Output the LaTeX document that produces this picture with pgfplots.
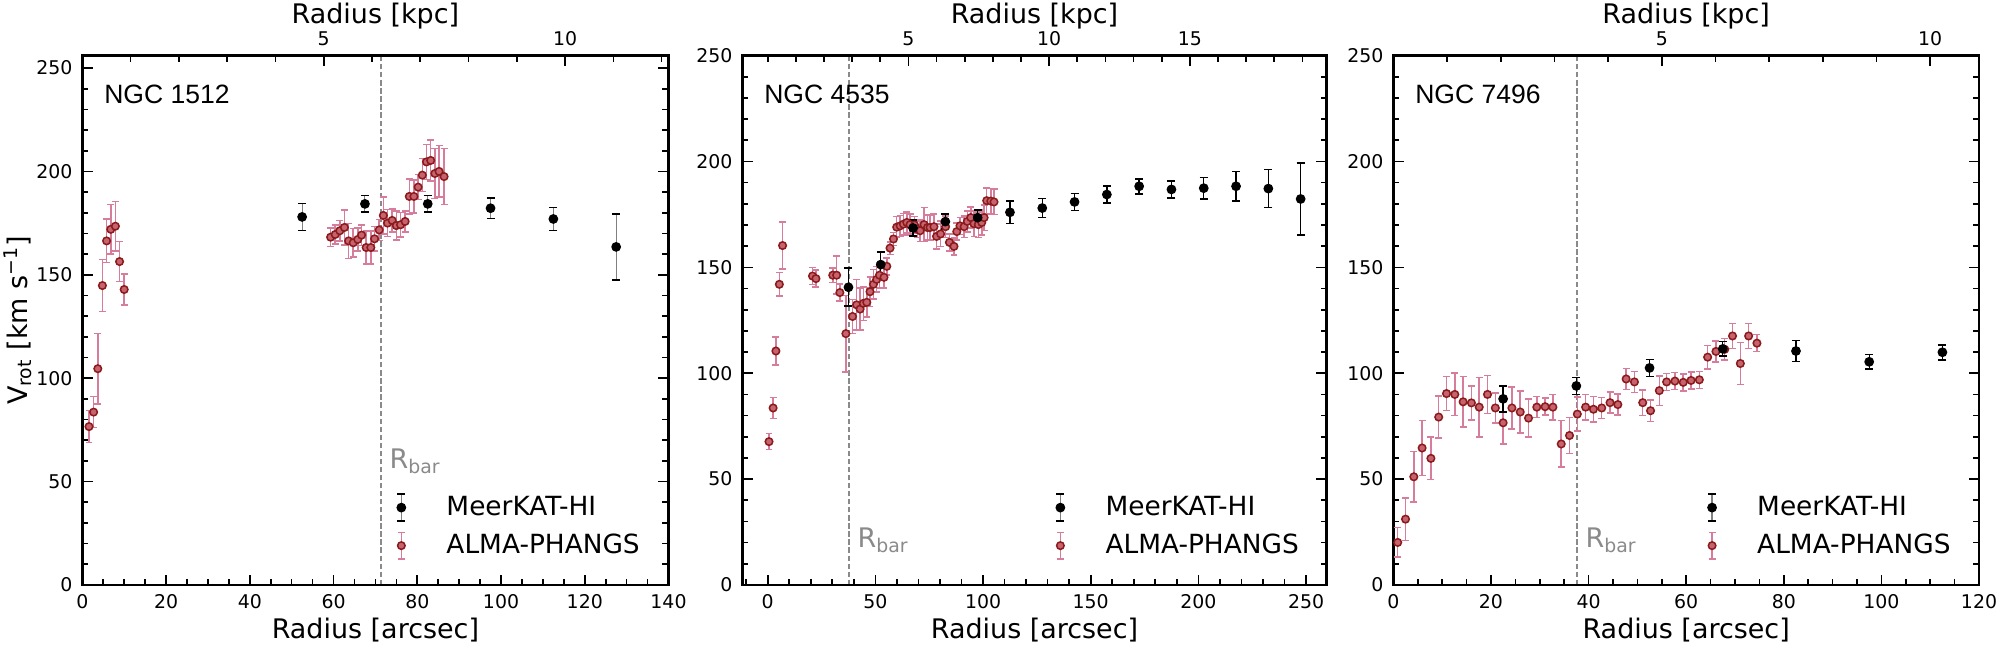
\documentclass[border=0pt]{standalone}
\usepackage{fontspec}
\setmainfont{DejaVu Sans}
\newfontfamily\arialf{Liberation Sans}
\usepackage{pgfplots}
\usepackage{pgfplotstable}
\pgfplotsset{compat=1.18}

\definecolor{almafill}{RGB}{199,99,112}
\definecolor{almaedge}{RGB}{139,26,26}
\definecolor{almaerr}{RGB}{214,125,155}
\definecolor{rbarc}{RGB}{138,138,138}

\newcommand{\labfont}{\fontsize{9.7}{11.6}\selectfont}
\newcommand{\legfont}{\fontsize{9.5}{11.4}\selectfont}
\newcommand{\titfont}{\arialf\fontsize{9.55}{11.4}\selectfont}
\newcommand{\tickfont}{\fontsize{6.8}{8}\selectfont}

% ---------------- data -----------------
\pgfplotstableread{
r v e
1.6 76.6 7.7
2.7 83.6 7.5
3.7 104.6 17
4.8 144.8 12.5
5.8 166.4 10.5
6.8 172.0 12
7.9 173.5 12
8.9 156.4 9.7
10.0 142.9 7.5
59.3 168.2 4.5
60.4 169.5 4.5
61.5 171.3 5
62.6 172.9 8.5
63.6 166.4 8.5
64.7 165.5 7
65.8 167.1 5.5
66.7 169.2 5
67.8 163.2 8
68.9 163.2 8
69.8 167.4 6
70.9 171.7 5
71.9 178.7 9
72.9 175.0 6.5
74.0 176.3 5.5
75.0 173.8 7
76.0 174.2 6
77.1 175.8 5
78.1 187.9 8.5
79.2 187.9 8
80.2 192.4 6
81.2 198.2 8
82.2 204.6 8.5
83.2 205.3 10
84.2 199.0 12
85.2 200.0 12.5
86.4 197.5 13.5
}\almaA
\pgfplotstableread{
r v e
52.5 178.0 6.5
67.5 184.3 4
82.5 184.3 4
97.5 182.2 5
112.5 177.0 5.5
127.5 163.5 16
}\hiA

\pgfplotstableread{
r v e
0.6 67.7 3.8
2.5 83.6 5
3.8 110.5 6.5
5.4 142.0 5.5
6.9 160.3 11
20.8 145.9 4
22.4 144.7 4
30.2 146.3 3.5
32.0 146.3 9
33.5 138.1 4
36.3 118.7 18
39.4 126.8 8
41.3 132.3 12
42.9 130.3 10
44.4 133.0 8
46.0 133.5 7
47.5 138.5 7
49.1 142.0 7
50.6 144.3 6
51.9 146.3 6
54.0 145.3 5
55.3 150.5 4
56.8 159.1 3
58.4 163.4 3
59.9 169.0 5
61.5 169.6 5
63.0 170.4 5
64.6 171.2 5
66.1 170.2 5
68.2 170.0 4
69.5 168.0 4
70.8 167.3 5
72.6 170.2 8
74.2 168.8 6
75.4 168.8 6
77.2 169.2 6
78.4 164.6 6
80.3 165.8 6
82.6 169.2 5
84.4 161.8 4
86.5 159.9 4
87.8 166.9 4
89.3 169.6 4
91.2 169.2 5
92.7 171.7 5
94.3 173.5 5
95.8 170.6 6
97.8 170.2 6
99.4 171.2 6
100.5 173.5 6
101.7 181.5 6
103.6 181.3 6
105.1 180.9 6
}\almaB
\pgfplotstableread{
r v e
37.5 140.6 9
52.5 151.3 6
67.5 168.6 3.7
82.5 171.6 3.5
97.5 173.5 3.5
112.5 176.0 5.3
127.5 178.0 4.5
142.5 180.9 4
157.5 184.4 4
172.5 188.3 3.5
187.5 186.8 4
202.5 187.4 5
217.5 188.3 7
232.5 187.2 9
247.5 182.3 17
}\hiB

\pgfplotstableread{
r v e
0.9 20.1 7
2.5 31.1 10
4.2 51.1 12
5.9 64.7 13
7.7 59.8 10
9.3 79.3 10
10.9 90.4 8
12.6 90.0 10
14.3 86.5 12
16.0 86.0 8
17.6 84.0 14
19.3 90.0 9
20.9 83.6 7
22.5 76.6 10
24.3 83.6 10
26.0 81.7 10
27.7 78.8 9
29.4 84.0 5
31.1 84.2 4
32.7 84.0 6
34.4 66.6 11
36.1 70.6 8.5
37.7 80.7 8
39.4 84.0 6
41.0 83.0 6
42.7 83.6 5
44.4 86.1 5
46.0 85.2 5
47.7 97.3 5
49.4 95.9 5
51.1 86.1 6
52.7 82.3 5
54.5 91.8 7
56.0 95.9 4
57.7 96.3 4
59.4 95.7 4
61.0 96.6 4
62.7 96.9 4
64.4 107.6 5.5
66.1 110.3 5
67.9 111.3 5
69.5 117.6 6
71.1 104.6 10
72.8 117.6 6
74.5 114.2 4
}\almaC
\pgfplotstableread{
r v e
22.5 87.9 6.2
37.5 94.0 4
52.5 102.5 4
67.5 111.5 3.5
82.5 110.5 5
97.5 105.4 3.5
112.5 109.9 3.5
}\hiC

\pgfplotsset{
  base/.style={
    scale only axis,
    height=190.58pt,
    anchor=south west,
    axis line style={line width=1pt},
    tick style={line width=0.6pt, black},
    major tick length=3.7pt,
    minor tick length=2.2pt,
    tick align=inside,
    /pgf/number format/assume math mode=true,
    tick label style={font=\tickfont},
    label style={font=\labfont},
  },
  mainax/.style={
    base,
    xtick pos=left,
    ytick pos=both,
    yticklabel pos=left,
    ytick={0,50,...,250},
    minor ytick={0,10,...,250},
    ymin=0,
    xlabel={Radius [arcsec]},
    x label style={at={(axis description cs:0.5,0)}, anchor=base, yshift=-19.1pt},
    legend style={draw=none, fill=none, inner sep=0pt, font=\legfont,
      at={(rel axis cs:0.535,0.043)}, anchor=south west,
      nodes={inner sep=1.5pt},
      row sep=2.2pt,
      /tikz/every odd column/.append style={column sep=13pt}},
    legend cell align=left,
  },
  kpcax/.style={
    base,
    hide y axis,
    xtick pos=right,
    xticklabel pos=right,
    ymin=0, ymax=1,
    xlabel={Radius [kpc]},
    x label style={at={(axis description cs:0.5,1)}, anchor=base, yshift=11.4pt},
  },
  alma/.style={only marks, mark=*, mark size=1.35pt,
    mark options={fill=almafill, draw=almaedge, line width=0.55pt},
    forget plot,
    error bars/.cd, y dir=both, y explicit,
    error bar style={almaerr, line width=0.55pt},
    error mark options={almaerr, line width=0.55pt, mark size=1.25pt, rotate=90}},
  hi/.style={only marks, mark=*, mark size=1.55pt,
    mark options={fill=black, draw=black},
    forget plot,
    error bars/.cd, y dir=both, y explicit,
    error bar style={black, line width=0.5pt},
    error mark options={black, line width=0.6pt, mark size=1.45pt, rotate=90}},
  hileg/.style={legend image code/.code={
    \draw[gray, line width=0.45pt] (0pt,-4.8pt) -- (0pt,4.8pt);
    \draw[black, line width=0.6pt] (-1.45pt,-4.8pt) -- (1.45pt,-4.8pt) (-1.45pt,4.8pt) -- (1.45pt,4.8pt);
    \fill[black] (0pt,0pt) circle (1.55pt);}},
  almaleg/.style={legend image code/.code={
    \draw[almaerr, line width=0.55pt] (0pt,-4.8pt) -- (0pt,4.8pt);
    \draw[almaerr, line width=0.55pt] (-1.25pt,-4.8pt) -- (1.25pt,-4.8pt) (-1.25pt,4.8pt) -- (1.25pt,4.8pt);
    \filldraw[fill=almafill, draw=almaedge, line width=0.55pt] (0pt,0pt) circle (1.35pt);}},
}

\begin{document}
\begin{tikzpicture}
\path[use as bounding box] (0,0) rectangle (720pt,232.56pt);

% ================= Panel 1 =================
\begin{axis}[mainax, at={(29.63pt,21.96pt)}, width=211.03pt,
  xmin=0, xmax=140, ymax=256,
  xtick={0,20,...,140}, minor xtick={0,5,...,140},
  ylabel={V\textsubscript{rot} [km s\textsuperscript{−1}]},
  y label style={at={(axis description cs:-0.11,0.5)}, anchor=center},
]
\addplot[rbarc, line width=0.7pt, dash pattern=on 1.9pt off 1pt, forget plot] coordinates {(71.3,0) (71.3,256)};
\addplot[alma] table[x=r, y=v, y error=e]{\almaA};
\addplot[hi, error bar style={gray, line width=0.4pt}] table[x=r, y=v, y error=e]{\hiA};
\addlegendimage{hileg}\addlegendentry{MeerKAT-HI}
\addlegendimage{almaleg}\addlegendentry{ALMA-PHANGS}
\node[anchor=base west, inner sep=0pt, font=\titfont] at (rel axis cs:0,1) [xshift=7.7pt, yshift=-17.1pt] {NGC 1512};
\node[anchor=base west, inner sep=0pt, font=\labfont, text=rbarc] at (axis cs:71.3,56.4) [xshift=3pt] {R\textsubscript{bar}};
\end{axis}
\begin{axis}[kpcax, at={(29.63pt,21.96pt)}, width=211.03pt,
  xmin=0, xmax=12.142, xtick={5,10}, minor xtick={1,...,12}]
\end{axis}

% ================= Panel 2 =================
\begin{axis}[mainax, at={(267.23pt,21.96pt)}, width=210.38pt,
  xmin=-11.8, xmax=259.6, ymax=250,
  xtick={0,50,...,250}, minor xtick={-10,0,...,250},
]
\addplot[rbarc, line width=0.7pt, dash pattern=on 1.9pt off 1pt, forget plot] coordinates {(37.6,0) (37.6,250)};
\addplot[alma] table[x=r, y=v, y error=e]{\almaB};
\addplot[hi] table[x=r, y=v, y error=e]{\hiB};
\addlegendimage{hileg}\addlegendentry{MeerKAT-HI}
\addlegendimage{almaleg}\addlegendentry{ALMA-PHANGS}
\node[anchor=base west, inner sep=0pt, font=\titfont] at (rel axis cs:0,1) [xshift=7.7pt, yshift=-17.1pt] {NGC 4535};
\node[anchor=base west, inner sep=0pt, font=\labfont, text=rbarc] at (axis cs:37.6,17.5) [xshift=3pt] {R\textsubscript{bar}};
\end{axis}
\begin{axis}[kpcax, at={(267.23pt,21.96pt)}, width=210.38pt,
  xmin=-0.903, xmax=19.862, xtick={5,10,15}, minor xtick={0,...,19}]
\end{axis}

% ================= Panel 3 =================
\begin{axis}[mainax, at={(501.59pt,21.96pt)}, width=210.85pt,
  xmin=0, xmax=120, ymax=250,
  xtick={0,20,...,120}, minor xtick={0,5,...,120},
]
\addplot[rbarc, line width=0.7pt, dash pattern=on 1.9pt off 1pt, forget plot] coordinates {(37.6,0) (37.6,250)};
\addplot[alma] table[x=r, y=v, y error=e]{\almaC};
\addplot[hi] table[x=r, y=v, y error=e]{\hiC};
\addlegendimage{hileg}\addlegendentry{MeerKAT-HI}
\addlegendimage{almaleg}\addlegendentry{ALMA-PHANGS}
\node[anchor=base west, inner sep=0pt, font=\titfont] at (rel axis cs:0,1) [xshift=7.7pt, yshift=-17.1pt] {NGC 7496};
\node[anchor=base west, inner sep=0pt, font=\labfont, text=rbarc] at (axis cs:37.6,17.5) [xshift=3pt] {R\textsubscript{bar}};
\end{axis}
\begin{axis}[kpcax, at={(501.59pt,21.96pt)}, width=210.85pt,
  xmin=0, xmax=10.909, xtick={5,10}, minor xtick={1,...,10}]
\end{axis}
\end{tikzpicture}
\end{document}
